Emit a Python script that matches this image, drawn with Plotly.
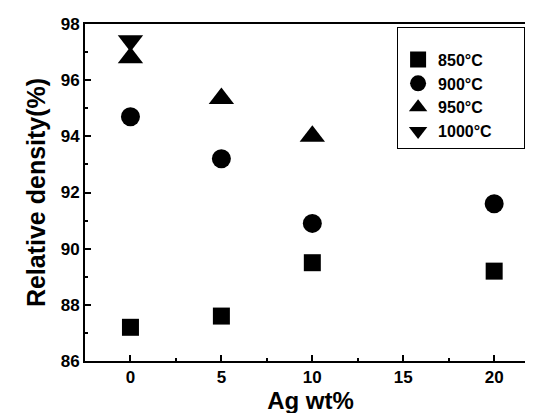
import plotly.graph_objects as go

ag = [0, 5, 10, 20]
d850 = [87.2, 87.6, 89.5, 89.2]
d900 = [94.7, 93.2, 90.9, 91.6]
ag950 = [0, 5, 10]
d950 = [96.8, 95.35, 94.0]
ag1000 = [0]
d1000 = [97.4]

xticks = [0, 5, 10, 15, 20]
yticks = [86, 88, 90, 92, 94, 96, 98]

series = [
    ("850°C", ag, d850, "square", 17),
    ("900°C", ag, d900, "circle", 19),
    ("950°C", ag950, d950, "triangle-up", 22),
    ("1000°C", ag1000, d1000, "triangle-down", 22),
]

FAM = "Liberation Sans, Arial, sans-serif"
PAD = "\u00a0" * 6
fig = go.Figure()
for name, xs, ys, sym, sz in series:
    fig.add_trace(go.Scatter(x=xs, y=ys, mode="markers", name="<b>%s</b>%s" % (name, PAD),
                             marker=dict(symbol=sym, size=sz, color="black")))

fig.update_layout(
    width=533, height=413,
    margin=dict(l=77, r=5, t=16, b=60),
    paper_bgcolor="white", plot_bgcolor="white",
    font=dict(family=FAM, color="black"),
    showlegend=True,
    legend=dict(x=0.692, y=0.99, xanchor="left", yanchor="top",
                bordercolor="black", borderwidth=1, bgcolor="white",
                font=dict(size=16, family=FAM, color="black"),
                title=dict(text=" ", font=dict(size=11)),
                tracegroupgap=0, itemwidth=30),
)
tf = dict(size=17, family=FAM, color="black", weight="bold")
fig.update_xaxes(range=[-2.5, 22.3], tickvals=xticks, ticktext=["<b>%d</b>" % v for v in xticks],
                 ticks="inside", ticklen=6, tickwidth=1.5, tickcolor="black",
                 minor=dict(tickvals=[-2.5, 2.5, 7.5, 12.5, 17.5], ticks="inside", ticklen=3, tickcolor="black"),
                 showline=True, linewidth=2, linecolor="black", mirror=True, showgrid=False, zeroline=False,
                 tickfont=tf, automargin=False,
                 title=dict(text="<b>Ag wt%</b>", font=dict(size=24, family=FAM), standoff=4))
fig.update_yaxes(range=[86, 98], tickvals=yticks, ticktext=["<b>%d</b>" % v for v in yticks],
                 ticks="inside", ticklen=6, tickwidth=1.5, tickcolor="black",
                 minor=dict(tickvals=[87, 89, 91, 93, 95, 97], ticks="inside", ticklen=3, tickcolor="black"),
                 showline=True, linewidth=2, linecolor="black", mirror=True, showgrid=False, zeroline=False,
                 tickfont=tf, automargin=False,
                 title=dict(text="<b>Relative density(%)</b>", font=dict(size=25, family=FAM), standoff=8))

fig.write_html("out.html")
